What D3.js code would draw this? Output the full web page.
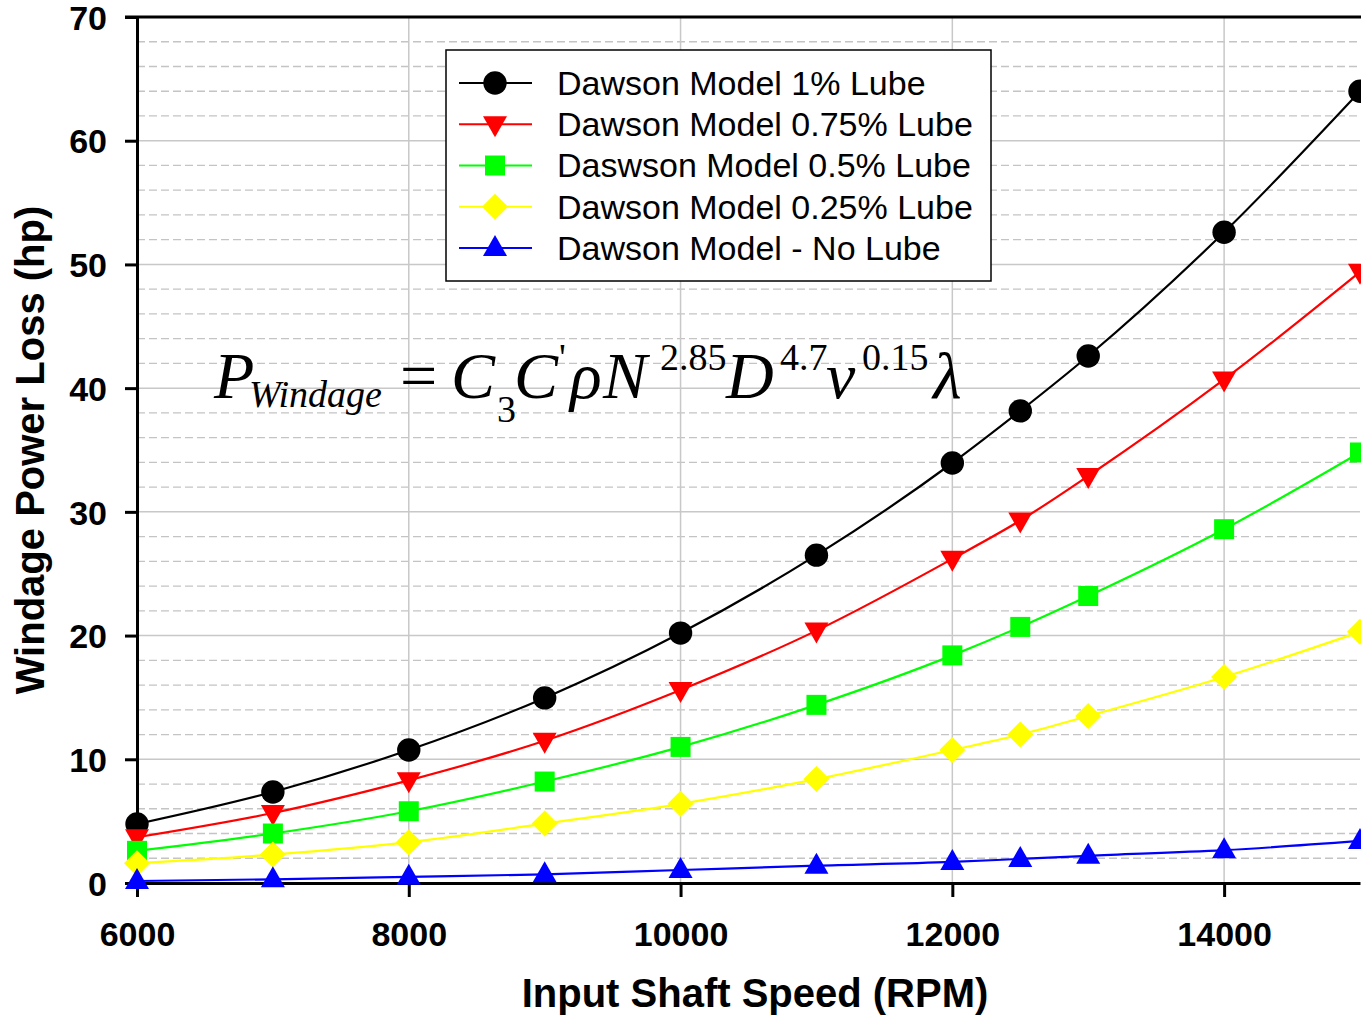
<!DOCTYPE html>
<html><head><meta charset="utf-8">
<script src="https://cdn.jsdelivr.net/npm/d3@7"></script>
<style>html,body{margin:0;padding:0;background:#fff;overflow:hidden}</style>
</head><body>
<svg id="c" width="1361" height="1015"></svg>
<script>
const speeds = [6000, 7000, 8000, 9000, 10000, 11000, 12000, 12500, 13000, 14000, 15000];
const lube100 = [4.77, 7.36, 10.75, 14.96, 20.2, 26.5, 33.95, 38.16, 42.6, 52.6, 64.0];
const lube075 = [3.7, 5.66, 8.3, 11.5, 15.6, 20.4, 26.2, 29.3, 32.9, 40.7, 49.4];
const lube050 = [2.6, 4.0, 5.8, 8.2, 11.0, 14.4, 18.4, 20.7, 23.2, 28.6, 34.8];
const lube025 = [1.6, 2.3, 3.3, 4.8, 6.4, 8.4, 10.75, 12.0, 13.5, 16.65, 20.3];
const noLube = [0.16, 0.3, 0.5, 0.7, 1.05, 1.4, 1.7, 1.95, 2.2, 2.65, 3.4];
const seriesNames = ["Dawson Model 1% Lube", "Dawson Model 0.75% Lube", "Daswson Model 0.5% Lube", "Dawson Model 0.25% Lube", "Dawson Model - No Lube"];
const xTicks = [6000, 8000, 10000, 12000, 14000];
const yTicks = [0, 10, 20, 30, 40, 50, 60, 70];
const yMinor = [2,4,6,8,12,14,16,18,22,24,26,28,32,34,36,38,42,44,46,48,52,54,56,58,62,64,66,68];

const series = [
  {name: seriesNames[0], values: lube100, color: "#000000", sym: "circle"},
  {name: seriesNames[1], values: lube075, color: "#ff0000", sym: "tdown"},
  {name: seriesNames[2], values: lube050, color: "#00ff00", sym: "square"},
  {name: seriesNames[3], values: lube025, color: "#ffff00", sym: "diamond"},
  {name: seriesNames[4], values: noLube, color: "#0000ff", sym: "tup"}
];

const svg = d3.select("#c");
const L = 137, R = 1360, T = 17, B = 883;
const x = d3.scaleLinear().domain([6000, 15000]).range([L, R]);
const y = d3.scaleLinear().domain([0, 70]).range([B, T]);

// grid
const g = svg.append("g");
g.selectAll(".ymin").data(yMinor).join("line")
  .attr("x1", L).attr("x2", R).attr("y1", d => y(d)).attr("y2", d => y(d))
  .attr("stroke", "#c4c4c4").attr("stroke-width", 1.3).attr("stroke-dasharray", "8,4");
g.selectAll(".ymaj").data(yTicks.filter(d => d > 0 && d < 70)).join("line")
  .attr("x1", L).attr("x2", R).attr("y1", d => y(d)).attr("y2", d => y(d))
  .attr("stroke", "#c8c8c8").attr("stroke-width", 1.5);
g.selectAll(".xmaj").data(xTicks.filter(d => d > 6000)).join("line")
  .attr("x1", d => x(d)).attr("x2", d => x(d)).attr("y1", T).attr("y2", B)
  .attr("stroke", "#c8c8c8").attr("stroke-width", 1.5);

// axes
const xAxis = svg.append("g").attr("transform", `translate(0,${B})`)
  .call(d3.axisBottom(x).tickValues(xTicks).tickFormat(d3.format("d")).tickSize(14).tickSizeOuter(0));
const yAxis = svg.append("g").attr("transform", `translate(${L},0)`)
  .call(d3.axisLeft(y).tickValues(yTicks).tickSize(12).tickSizeOuter(0));
[xAxis, yAxis].forEach(a => {
  a.select(".domain").attr("stroke", "#000").attr("stroke-width", 3);
  a.selectAll(".tick line").attr("stroke", "#000").attr("stroke-width", 3);
  a.selectAll("text").attr("fill", "#000").style("font-family", "'Liberation Sans', Arial, sans-serif")
   .style("font-weight", "bold").style("font-size", "34px");
});
xAxis.selectAll("text").attr("dy", null).attr("y", 63);
yAxis.selectAll("text").attr("x", -30).attr("dy", "0.36em");
// top border
svg.append("line").attr("x1", L - 12).attr("x2", R + 2).attr("y1", T).attr("y2", T)
  .attr("stroke", "#000").attr("stroke-width", 3);

// equation
const eq = svg.append("g").style("font-family", "'Liberation Serif', 'Times New Roman', serif").attr("fill", "#000");
const eqParts = [
  {t: "P", x: 214, y: 398, s: 66, i: true},
  {t: "Windage", x: 249, y: 407, s: 38, i: true},
  {t: "=", x: 400, y: 398, s: 66, i: false},
  {t: "C", x: 451, y: 398, s: 66, i: true},
  {t: "3", x: 497, y: 422, s: 38, i: false},
  {t: "C", x: 514, y: 398, s: 66, i: true},
  {t: "'", x: 559, y: 370, s: 38, i: false},
  {t: "ρ", x: 570, y: 398, s: 66, i: true},
  {t: "N", x: 603, y: 398, s: 66, i: true},
  {t: "2.85", x: 660, y: 370, s: 38, i: false},
  {t: "D", x: 726, y: 398, s: 66, i: true},
  {t: "4.7", x: 780, y: 370, s: 38, i: false},
  {t: "v", x: 826, y: 398, s: 66, i: true},
  {t: "0.15", x: 862, y: 370, s: 38, i: false},
  {t: "λ", x: 933, y: 398, s: 66, i: true}
];
eq.selectAll("text").data(eqParts).join("text")
  .attr("x", d => d.x).attr("y", d => d.y).style("font-size", d => d.s + "px")
  .style("font-style", d => d.i ? "italic" : "normal").text(d => d.t);

// series
const line = d3.line().x((d, i) => x(speeds[i])).y(d => y(d)).curve(d3.curveMonotoneX);
function symPath(sym) {
  switch (sym) {
    case "circle": return d3.symbol(d3.symbolCircle, 430)();
    case "square": return "M-10,-10H10V10H-10Z";
    case "diamond": return "M0,-13L13,0L0,13L-13,0Z";
    case "tup": return "M0,-13L12,8L-12,8Z";
    case "tdown": return "M0,13L12,-8L-12,-8Z";
  }
}
const plot = svg.append("g");
series.forEach(s => {
  plot.append("path").attr("d", line(s.values)).attr("fill", "none")
    .attr("stroke", s.color).attr("stroke-width", 2.2);
});
series.forEach(s => {
  plot.selectAll(null).data(s.values).join("path")
    .attr("transform", (d, i) => `translate(${x(speeds[i])},${y(d)})`)
    .attr("d", symPath(s.sym)).attr("fill", s.color);
});

// legend
const lg = svg.append("g");
lg.append("rect").attr("x", 446).attr("y", 50).attr("width", 545).attr("height", 231)
  .attr("fill", "#fff").attr("stroke", "#000").attr("stroke-width", 1.5);
const rowY = d3.scalePoint().domain(series.map(s => s.name)).range([83, 248]);
series.forEach(s => {
  const yy = rowY(s.name);
  lg.append("line").attr("x1", 459).attr("x2", 532).attr("y1", yy).attr("y2", yy)
    .attr("stroke", s.color).attr("stroke-width", 2.2);
  lg.append("path").attr("transform", `translate(495,${yy})`).attr("d", symPath(s.sym)).attr("fill", s.color);
  lg.append("text").attr("x", 557).attr("y", yy).attr("dy", "0.35em")
    .style("font-family", "'Liberation Sans', Arial, sans-serif").style("font-size", "34px")
    .attr("fill", "#000").text(s.name);
});

// titles
svg.append("text").attr("x", 755).attr("y", 1007).attr("text-anchor", "middle")
  .style("font-family", "'Liberation Sans', Arial, sans-serif").style("font-weight", "bold").style("font-size", "40px")
  .text("Input Shaft Speed (RPM)");
svg.append("text").attr("transform", "translate(44,450) rotate(-90)").attr("text-anchor", "middle")
  .style("font-family", "'Liberation Sans', Arial, sans-serif").style("font-weight", "bold").style("font-size", "40px")
  .text("Windage Power Loss (hp)");
</script>
</body></html>
